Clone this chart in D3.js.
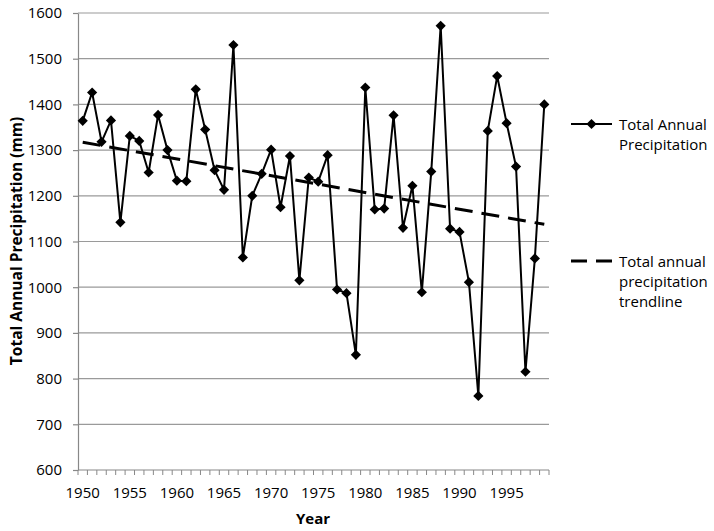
<!DOCTYPE html>
<html>
<head>
<meta charset="utf-8">
<script src="https://cdn.jsdelivr.net/npm/d3@7"></script>
<style>
  body { margin: 0; background: #fff; }
  svg text { font-family: "Open Sans", sans-serif; fill: #000; }
</style>
</head>
<body>
<div id="container"></div>
<script>
const years = d3.range(1950, 2000);
const precip = [
  1364, 1426, 1318, 1365, 1142, 1331, 1320, 1251, 1377, 1300,
  1233, 1232, 1433, 1345, 1256, 1213, 1530, 1065, 1200, 1248,
  1301, 1175, 1287, 1015, 1240, 1231, 1289, 995, 987, 852,
  1437, 1170, 1172, 1376, 1130, 1222, 989, 1253, 1572, 1128,
  1121, 1011, 762, 1342, 1462, 1359, 1264, 815, 1063, 1400
];
const yTicks = [600, 700, 800, 900, 1000, 1100, 1200, 1300, 1400, 1500, 1600];
const xLabels = [1950, 1955, 1960, 1965, 1970, 1975, 1980, 1985, 1990, 1995];
const legendNames = [["Total Annual", "Precipitation"], ["Total annual", "precipitation", "trendline"]];

const WIDTH = 714, HEIGHT = 531;
const plotL = 78, plotR = 549, plotT = 13, plotB = 470;

const svg = d3.select("#container").append("svg")
  .attr("width", WIDTH).attr("height", HEIGHT);

const x = d3.scalePoint().domain(years).range([plotL, plotR]).padding(0.5);
const xb = d3.scaleBand().domain(years).range([plotL, plotR]);
const y = d3.scaleLinear().domain([600, 1600]).range([plotB, plotT]);

// gridlines
svg.append("g").selectAll("line")
  .data(yTicks.filter(d => d > 600))
  .enter().append("line")
  .attr("x1", plotL).attr("x2", plotR)
  .attr("y1", d => y(d)).attr("y2", d => y(d))
  .attr("stroke", "#9a9a9a").attr("stroke-width", 1.2);

// y axis
const yAxis = svg.append("g")
  .attr("transform", `translate(${plotL},0)`)
  .call(d3.axisLeft(y).tickValues(yTicks).tickFormat(d3.format("d"))
    .tickSize(5).tickPadding(11).tickSizeOuter(0));
yAxis.select(".domain").attr("stroke", "#888").attr("stroke-width", 1.2);
yAxis.selectAll(".tick line").attr("stroke", "#888").attr("stroke-width", 1.2);
yAxis.selectAll("text").attr("font-size", 15).attr("font-family", "Open Sans");

// x axis
const xAxis = svg.append("g").attr("transform", `translate(0,${plotB})`);
xAxis.append("line").attr("x1", plotL).attr("x2", plotR)
  .attr("stroke", "#888").attr("stroke-width", 1.2);
xAxis.selectAll(".tk")
  .data(years.concat([2000]))
  .enter().append("line")
  .attr("x1", (d, i) => plotL + i * xb.step())
  .attr("x2", (d, i) => plotL + i * xb.step())
  .attr("y1", 0).attr("y2", 5)
  .attr("stroke", "#888").attr("stroke-width", 1);
xAxis.selectAll("text")
  .data(xLabels)
  .enter().append("text")
  .attr("x", d => x(d)).attr("y", 28)
  .attr("text-anchor", "middle").attr("font-size", 15)
  .text(d => d);

// trendline (least squares)
const mx = d3.mean(years), my = d3.mean(precip);
const slope = d3.sum(years, (d, i) => (d - mx) * (precip[i] - my)) / d3.sum(years, d => (d - mx) * (d - mx));
const icpt = my - slope * mx;
svg.append("line")
  .attr("x1", x(1950)).attr("y1", y(icpt + slope * 1950))
  .attr("x2", x(1999)).attr("y2", y(icpt + slope * 1999))
  .attr("stroke", "#000").attr("stroke-width", 3)
  .attr("stroke-dasharray", "18,9");

// data line
svg.append("path")
  .datum(precip)
  .attr("fill", "none").attr("stroke", "#000").attr("stroke-width", 2)
  .attr("d", d3.line().x((d, i) => x(years[i])).y(d => y(d)));

const diamond = d3.symbol(d3.symbolSquare, 52);
svg.selectAll(".pt")
  .data(precip)
  .enter().append("path")
  .attr("d", diamond)
  .attr("transform", (d, i) => `translate(${x(years[i])},${y(d)}) rotate(45)`)
  .attr("fill", "#000");

// axis titles
svg.append("text")
  .attr("transform", "translate(22,241) rotate(-90)")
  .attr("text-anchor", "middle").attr("font-size", 15.5).attr("font-weight", "bold")
  .text("Total Annual Precipitation (mm)");
svg.append("text")
  .attr("x", 313).attr("y", 524)
  .attr("text-anchor", "middle").attr("font-size", 15).attr("font-weight", "bold")
  .text("Year");

// legend
const lg = svg.append("g");
lg.append("line").attr("x1", 571).attr("x2", 612).attr("y1", 124).attr("y2", 124)
  .attr("stroke", "#000").attr("stroke-width", 2);
lg.append("path").attr("d", diamond)
  .attr("transform", "translate(591.5,124) rotate(45)").attr("fill", "#000");
lg.append("line").attr("x1", 571).attr("x2", 612).attr("y1", 261).attr("y2", 261)
  .attr("stroke", "#000").attr("stroke-width", 3).attr("stroke-dasharray", "16,9");

const legendY = [130, 267];
legendNames.forEach((lines, k) => {
  lines.forEach((t, j) => {
    lg.append("text")
      .attr("x", 619).attr("y", legendY[k] + j * 20)
      .attr("font-size", 15)
      .text(t);
  });
});
</script>
</body>
</html>
